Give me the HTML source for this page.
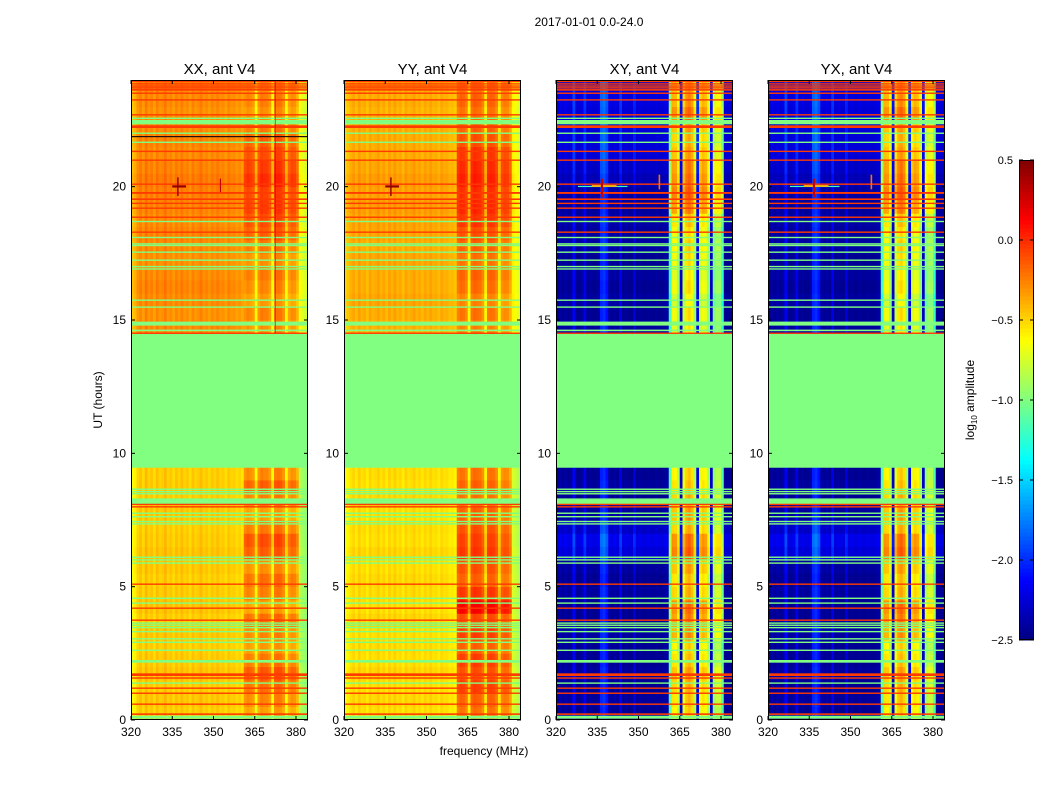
<!DOCTYPE html>
<html><head><meta charset="utf-8"><style>
body{margin:0;background:#fff;}
svg{display:block;font-family:"Liberation Sans",sans-serif;}
</style></head><body>
<svg id="chart" width="1050" height="800" viewBox="0 0 1050 800">
<rect width="1050" height="800" fill="#fff"/>
<text x="589" y="26" font-size="12" text-anchor="middle">2017-01-01 0.0-24.0</text>
<text x="484" y="755" font-size="12" text-anchor="middle">frequency (MHz)</text>
<text transform="translate(102,400) rotate(-90)" font-size="12" text-anchor="middle">UT (hours)</text>
<text transform="translate(974,400) rotate(-90)" font-size="12" text-anchor="middle">log<tspan font-size="8" dy="3">10</tspan><tspan dy="-3"> amplitude</tspan></text>
</svg>
<script>
// ---- data ----
const freqStart = 320; // channel i covers [320+i, 321+i] MHz
const colXX = [-0.45,-0.4,-0.3,-0.25,-0.32,-0.22,-0.3,-0.26,-0.33,-0.24,-0.3,-0.28,-0.22,-0.3,-0.26,-0.32,-0.25,-0.3,-0.24,-0.3,-0.27,-0.33,-0.25,-0.3,-0.28,-0.23,-0.3,-0.27,-0.32,-0.26,-0.3,-0.25,-0.3,-0.28,-0.33,-0.26,-0.3,-0.29,-0.33,-0.3,-0.35,-0.2,-0.15,-0.18,-0.22,-0.5,-0.2,-0.12,-0.15,-0.15,-0.22,-0.5,-0.12,-0.1,-0.12,-0.2,-0.5,-0.25,-0.18,-0.2,-0.3,-0.65,-0.7,-0.75,-0.75];
const colYY = [-0.5,-0.45,-0.4,-0.36,-0.42,-0.34,-0.4,-0.37,-0.43,-0.35,-0.4,-0.38,-0.34,-0.4,-0.36,-0.42,-0.35,-0.4,-0.34,-0.4,-0.37,-0.43,-0.35,-0.4,-0.38,-0.34,-0.4,-0.37,-0.42,-0.36,-0.4,-0.35,-0.4,-0.38,-0.43,-0.36,-0.4,-0.39,-0.43,-0.42,-0.45,-0.15,-0.1,-0.12,-0.18,-0.5,-0.12,-0.08,-0.1,-0.12,-0.2,-0.5,-0.12,-0.1,-0.12,-0.2,-0.5,-0.22,-0.18,-0.2,-0.3,-0.6,-0.65,-0.7,-0.7];
const colXY = [-2.45,-2.4,-2.45,-2.4,-2.45,-2.42,-2.15,-2.45,-2.45,-2.4,-2.2,-2.45,-2.42,-2.45,-2.45,-2.4,-2.05,-2.0,-2.1,-2.42,-2.45,-2.4,-2.45,-2.2,-2.45,-2.42,-2.45,-2.45,-2.25,-2.45,-2.42,-2.45,-2.45,-2.42,-2.45,-2.45,-2.42,-2.45,-2.45,-2.42,-2.4,-1.15,-0.6,-0.62,-0.85,-2.3,-0.7,-0.5,-0.45,-0.55,-0.85,-2.2,-0.7,-0.6,-0.65,-0.9,-2.3,-0.95,-0.85,-0.85,-1.15,-2.45,-2.45,-2.45,-2.45];
const colYX = [-2.45,-2.4,-2.45,-2.4,-2.45,-2.42,-2.15,-2.45,-2.45,-2.4,-2.2,-2.45,-2.42,-2.45,-2.45,-2.4,-2.05,-2.0,-2.1,-2.42,-2.45,-2.4,-2.45,-2.2,-2.45,-2.42,-2.45,-2.45,-2.25,-2.45,-2.42,-2.45,-2.45,-2.42,-2.45,-2.45,-2.42,-2.45,-2.45,-2.42,-2.4,-1.15,-0.6,-0.62,-0.85,-2.3,-0.7,-0.5,-0.45,-0.55,-0.85,-2.2,-0.7,-0.6,-0.65,-0.9,-2.3,-0.95,-0.85,-0.85,-1.15,-2.45,-2.45,-2.45,-2.45];
// half-hour bins 0..47 (bin k covers k*0.5 .. k*0.5+0.5 h)
const tBaseXX = [-0.2,-0.18,-0.2,-0.17,-0.19,-0.2,-0.18,-0.2,-0.17,-0.19,-0.2,-0.18,-0.17,-0.19,-0.2,-0.18,-0.2,-0.19,-0.2,0,0,0,0,0,0,0,0,0,0,0.0,-0.02,0.0,0.02,0.0,-0.02,0.0,0.02,0.0,0.02,0.03,0.05,0.02,0.0,0.02,0.0,-0.02,0.0,0.0];
const tBandXX = [-0.2,-0.12,-0.05,0.02,-0.08,-0.18,-0.12,-0.05,-0.2,-0.1,-0.05,-0.15,0.0,0.05,-0.08,-0.2,-0.1,0.0,-0.12,0,0,0,0,0,0,0,0,0,0,-0.15,-0.1,-0.18,-0.12,-0.08,-0.15,-0.08,0.0,0.05,0.1,0.08,0.15,0.1,0.05,0.0,-0.08,-0.15,-0.1,-0.15];
const tBaseYY = [-0.15,-0.13,-0.15,-0.12,-0.15,-0.14,-0.15,-0.12,-0.15,-0.14,-0.13,-0.15,-0.12,-0.15,-0.14,-0.15,-0.13,-0.15,-0.14,0,0,0,0,0,0,0,0,0,0,-0.02,0.0,0.02,0.0,0.0,0.02,0.0,0.02,0.03,0.05,0.03,0.05,0.02,0.0,0.0,0.0,-0.02,0.0,0.0];
const tBandYY = [-0.1,-0.05,0.05,0.0,0.05,-0.05,0.05,0.02,0.25,0.08,-0.05,0.0,0.08,0.05,0.0,-0.05,-0.1,-0.05,-0.1,0,0,0,0,0,0,0,0,0,0,-0.15,-0.1,-0.15,-0.08,-0.05,-0.1,-0.05,0.0,0.08,0.12,0.1,0.15,0.12,0.08,0.0,-0.05,-0.1,-0.05,-0.1];
const tBaseXY = [0.0,0.03,0.0,0.03,0.0,0.0,0.03,0.0,0.0,0.03,0.0,0.03,0.2,0.25,0.15,0.03,0.0,0.03,0.0,0,0,0,0,0,0,0,0,0,0,0.03,0.0,0.03,0.0,0.03,0.0,0.05,0.03,0.05,0.03,0.05,0.1,0.15,0.2,0.2,0.2,0.2,0.22,0.2];
const tBandXY = [0.0,0.05,0.1,0.15,0.05,0.0,0.2,0.25,0.3,0.1,0.05,0.15,0.35,0.3,0.1,0.15,0.1,0.05,0.0,0,0,0,0,0,0,0,0,0,0,-0.1,-0.05,-0.15,-0.05,-0.1,-0.05,0.0,-0.05,0.05,0.25,0.35,0.3,0.25,0.15,0.1,0.15,0.3,0.2,0.15];
const tBaseYX = tBaseXY;
const tBandYX = tBandXY;
const greenFlags = [[9.46,14.48],[14.79,14.94],[14.58,14.64],[15.46,15.51],[15.72,15.77],[16.89,16.94],[16.98,17.03],[17.22,17.27],[17.52,17.57],[17.77,17.82],[17.83,17.88],[18.07,18.12],[18.67,18.72],[21.64,21.69],[21.98,22.03],[22.34,22.5],[22.54,22.59],[8.46,8.51],[8.54,8.59],[8.63,8.68],[8.1,8.31],[7.73,7.78],[7.6,7.65],[7.42,7.47],[7.33,7.38],[6.08,6.13],[5.98,6.03],[5.86,5.91],[4.54,4.59],[4.36,4.41],[3.61,3.66],[3.53,3.58],[3.44,3.49],[3.29,3.34],[3.02,3.07],[2.89,2.94],[2.59,2.64],[2.15,2.25],[1.36,1.41],[0.05,0.16]];
const redFlags = [[23.92,23.97],[23.83,23.88],[23.75,23.8],[23.68,23.73],[23.6,23.66],[23.48,23.53],[23.23,23.28],[22.67,22.72],[22.2,22.3],[21.3,21.35],[20.97,21.02],[20.07,20.12],[19.73,19.8],[19.5,19.56],[19.35,19.4],[19.17,19.22],[18.83,18.88],[18.27,18.32],[14.48,14.53],[8.07,8.11],[7.98,8.02],[5.07,5.12],[4.17,4.22],[3.72,3.77],[1.65,1.75],[1.56,1.6],[1.17,1.22],[0.98,1.03],[0.57,0.62],[0.19,0.25]];
const yTicks = [0,5,10,15,20];
const yTickLabels = ["0","5","10","15","20"];
const xTicks = [320,335,350,365,380];
const xTickLabels = ["320","335","350","365","380"];
const cbTicks = [0.5,0.0,-0.5,-1.0,-1.5,-2.0,-2.5];
const cbTickLabels = ["0.5","0.0","\u22120.5","\u22121.0","\u22121.5","\u22122.0","\u22122.5"];
const greenValue = -1.0, redValue = -0.05;
const vmin = -2.5, vmax = 0.5;

// ---- rendering ----
const NS = "http://www.w3.org/2000/svg";
const svg = document.getElementById('chart');
function mk(tag, attrs, parent){ const e=document.createElementNS(NS,tag); for(const k in attrs) e.setAttribute(k,attrs[k]); (parent||svg).appendChild(e); return e; }
function jet(v){
  let t=(v-vmin)/(vmax-vmin); t=Math.max(0,Math.min(1,t));
  const c=x=>Math.round(255*Math.max(0,Math.min(1,x)));
  return `rgb(${c(1.5-Math.abs(4*t-3))},${c(1.5-Math.abs(4*t-2))},${c(1.5-Math.abs(4*t-1))})`;
}
const PY0=80, PY1=720, PW=177, FSCALE=2.75, HSCALE=(PY1-PY0)/24;
const yOf = h => PY1 - h*HSCALE;
const panels = [
 {key:'xx',title:'XX, ant V4',x0:131,col:colXX,tb:tBaseXX,tn:tBandXX},
 {key:'yy',title:'YY, ant V4',x0:344,col:colYY,tb:tBaseYY,tn:tBandYY},
 {key:'xy',title:'XY, ant V4',x0:556,col:colXY,tb:tBaseXY,tn:tBandXY},
 {key:'yx',title:'YX, ant V4',x0:768,col:colYX,tb:tBaseYX,tn:tBandYX}
];
panels.forEach((p,pi)=>{
  const xOf = f => p.x0 + (f-freqStart)*FSCALE;
  const cp = mk('clipPath',{id:'clip'+pi});
  mk('rect',{x:p.x0,y:PY0,width:PW,height:PY1-PY0},cp);
  const g = mk('g',{'clip-path':`url(#clip${pi})`});
  
  
  const nb = p.tb.length, bh = 24/nb;
  for(let k=0;k<nb;k++){
    for(let i=0;i<p.col.length;i++){
      const band = i>=41 && i<=60 && p.col[i] > -2.0;
      const v = p.col[i] + (band ? p.tn[k] : p.tb[k]);
      const r = mk('rect',{x:xOf(freqStart+i).toFixed(2),y:(yOf((k+1)*bh)).toFixed(2),width:(FSCALE+0.4).toFixed(2),height:(bh*HSCALE+0.4).toFixed(2),fill:jet(v)},g);
      
      
    }
  }
  function flagRow(rng,val,name){
    const y1=yOf(rng[1]), y2=yOf(rng[0]);
    const r=mk('rect',{x:p.x0,y:y1.toFixed(2),width:PW,height:Math.max(1.4,y2-y1).toFixed(2),fill:jet(val)},g);
    
    
  }
  greenFlags.forEach(r=>flagRow(r,greenValue,'flagged-row'));
  redFlags.forEach(r=>flagRow(r,redValue,'rfi-row'));
  // point features
  if(pi<2){
    mk('rect',{x:xOf(335),y:yOf(20.05),width:5*FSCALE,height:2.2,fill:jet(0.45)},g);
    mk('rect',{x:xOf(336.8),y:yOf(20.35),width:1.4,height:0.7*HSCALE,fill:jet(0.45)},g);
    if(pi===0){ mk('rect',{x:xOf(352.3),y:yOf(20.3),width:1.2,height:0.5*HSCALE,fill:jet(0.3)},g);
      mk('rect',{x:xOf(372.3),y:yOf(24),width:1,height:9.5*HSCALE,fill:jet(0.35),opacity:0.6},g);
      mk('rect',{x:p.x0,y:yOf(21.9),width:PW,height:1.2,fill:'#201010'},g); }
  } else {
    mk('rect',{x:xOf(328),y:yOf(20.03),width:18*FSCALE,height:1.2,fill:jet(-1.2)},g);
    mk('rect',{x:xOf(333),y:yOf(20.06),width:9*FSCALE,height:1.8,fill:jet(-0.4)},g);
    mk('rect',{x:xOf(336.3),y:yOf(20.3),width:2.2,height:0.7*HSCALE,fill:jet(0.3)},g);
    mk('rect',{x:xOf(357.3),y:yOf(20.45),width:1.6,height:0.55*HSCALE,fill:jet(-0.2)},g);
  }
  // frame
  const fr=mk('rect',{x:p.x0+0.5,y:PY0+0.5,width:PW-1,height:PY1-PY0-1,fill:'none',stroke:'#000','stroke-width':1});
  
  
  const tt=mk('text',{x:p.x0+PW/2,y:74,'font-size':15,'text-anchor':'middle'}); tt.textContent=p.title;
  
  
  yTicks.forEach((h,j)=>{
    const y=yOf(h);
    mk('line',{x1:p.x0,x2:p.x0+4,y1:y,y2:y,stroke:'#000'});
    mk('line',{x1:p.x0+PW-4,x2:p.x0+PW,y1:y,y2:y,stroke:'#000'});
    const t=mk('text',{x:p.x0-5,y:y+4,'font-size':12,'text-anchor':'end'}); t.textContent=yTickLabels[j];
    
    
  });
  xTicks.forEach((f,j)=>{
    const x=xOf(f);
    mk('line',{x1:x,x2:x,y1:PY1,y2:PY1-4,stroke:'#000'});
    mk('line',{x1:x,x2:x,y1:PY0,y2:PY0+4,stroke:'#000'});
    const t=mk('text',{x:x,y:736,'font-size':12,'text-anchor':'middle'}); t.textContent=xTickLabels[j];
    
    
  });
});
// colorbar
const CBX=1019, CBW=15, CBY0=160, CBY1=640;
const cbY = v => CBY1 - (v-vmin)/(vmax-vmin)*(CBY1-CBY0);
const cbg = mk('g',{});


const NST=120;
for(let s=0;s<NST;s++){
  const v0=vmin+(vmax-vmin)*s/NST, v1=vmin+(vmax-vmin)*(s+1)/NST;
  mk('rect',{x:CBX,y:cbY(v1).toFixed(2),width:CBW,height:(cbY(v0)-cbY(v1)+0.5).toFixed(2),fill:jet((v0+v1)/2)},cbg);
}
mk('rect',{x:CBX+0.5,y:CBY0+0.5,width:CBW-1,height:CBY1-CBY0-1,fill:'none',stroke:'#000'},cbg);
cbTicks.forEach((v,j)=>{
  const y=cbY(v);
  mk('line',{x1:CBX,x2:CBX+4,y1:y,y2:y,stroke:'#000'},cbg);
  mk('line',{x1:CBX+CBW-4,x2:CBX+CBW,y1:y,y2:y,stroke:'#000'},cbg);
  const t=mk('text',{x:1013,y:y+4,'font-size':11,'text-anchor':'end'},cbg); t.textContent=cbTickLabels[j];
  
  
});
</script>
</body></html>
